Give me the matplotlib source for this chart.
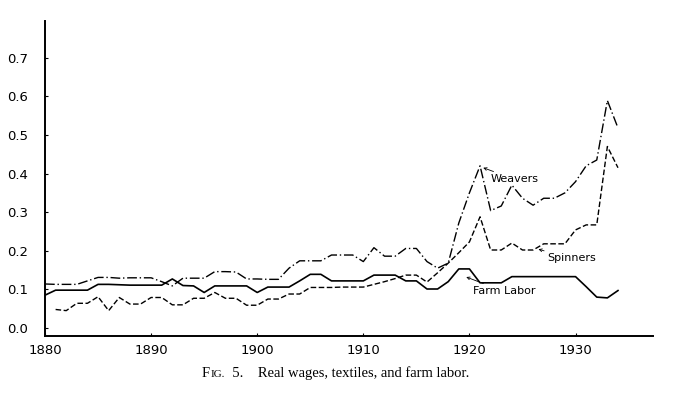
import matplotlib
matplotlib.use("Agg")
import matplotlib.pyplot as plt
from matplotlib import font_manager

years = list(range(1880, 1935))

weavers = [0.114, 0.113, 0.113, 0.113, 0.122, 0.131, 0.131, 0.129, 0.130, 0.130,
           0.130, 0.120, 0.109, 0.129, 0.129, 0.129, 0.146, 0.146, 0.145, 0.127,
           0.127, 0.126, 0.126, 0.155, 0.174, 0.174, 0.174, 0.189, 0.189, 0.189,
           0.172, 0.208, 0.186, 0.186, 0.206, 0.206, 0.172, 0.155, 0.168, 0.272,
           0.350, 0.420, 0.304, 0.316, 0.370, 0.336, 0.318, 0.336, 0.336, 0.350,
           0.379, 0.420, 0.435, 0.589, 0.518]

spinner_years = list(range(1881, 1935))
spinners = [0.048, 0.045, 0.064, 0.064, 0.081, 0.045, 0.079, 0.062, 0.062,
            0.079, 0.079, 0.060, 0.060, 0.077, 0.077, 0.092, 0.077, 0.077, 0.059,
            0.059, 0.075, 0.075, 0.088, 0.088, 0.105, 0.105, 0.105, 0.106, 0.106,
            0.106, 0.113, 0.120, 0.128, 0.137, 0.137, 0.119, 0.143, 0.168, 0.195,
            0.223, 0.288, 0.202, 0.202, 0.220, 0.202, 0.202, 0.218, 0.218, 0.218,
            0.254, 0.267, 0.267, 0.470, 0.415]

farm = [0.085, 0.098, 0.098, 0.098, 0.098, 0.113, 0.113, 0.112, 0.111, 0.111,
        0.111, 0.111, 0.127, 0.110, 0.109, 0.092, 0.109, 0.109, 0.109, 0.109,
        0.092, 0.106, 0.106, 0.106, 0.122, 0.139, 0.139, 0.122, 0.122, 0.122,
        0.122, 0.137, 0.137, 0.137, 0.122, 0.122, 0.101, 0.101, 0.120, 0.153,
        0.153, 0.117, 0.117, 0.117, 0.133, 0.133, 0.133, 0.133, 0.133, 0.133,
        0.133, 0.107, 0.080, 0.078, 0.097]

xticks = [1880, 1890, 1900, 1910, 1920, 1930]
yticks = [0.0, 0.1, 0.2, 0.3, 0.4, 0.5, 0.6, 0.7]
ytick_labels = ["0.0", "0.1", "0.2", "0.3", "0.4", "0.5", "0.6", "0.7"]
caption_rest = "  5.    Real wages, textiles, and farm labor."

installed = {f.name for f in font_manager.fontManager.ttflist}
tick_font = "Liberation Sans Narrow" if "Liberation Sans Narrow" in installed else "DejaVu Sans"

fig = plt.figure(figsize=(6.75, 3.96), dpi=100)
ax = fig.add_axes([45/675, 1-336/396, (653-45)/675, (336-21)/396])

ax.plot(years, weavers, color="black", lw=1.0, linestyle=(0, (7, 2, 1, 2)))
ax.plot(spinner_years, spinners, color="black", lw=1.0, linestyle=(0, (4, 1.8)))
ax.plot(years, farm, color="black", lw=1.2, linestyle="-")

ax.set_xlim(1880, 1937.3)
ax.set_ylim(-0.0207, 0.795)
for s in ["top", "right"]:
    ax.spines[s].set_visible(False)
ax.spines["left"].set_linewidth(1.4)
ax.spines["bottom"].set_linewidth(1.4)

ax.set_xticks(xticks)
ax.set_xticklabels([str(x) for x in xticks])
ax.set_yticks(yticks)
ax.set_yticklabels(ytick_labels)
ax.tick_params(axis="both", length=2, width=0.8, direction="in", labelsize=9.5)
ax.tick_params(axis="y", pad=12)
ax.tick_params(axis="x", pad=6)
for lab in ax.get_xticklabels() + ax.get_yticklabels():
    lab.set_fontfamily(tick_font)

ann_kw = dict(fontsize=8, fontfamily=tick_font, color="black", va="center", ha="left",
              arrowprops=dict(arrowstyle="->", lw=0.6, color="black",
                              shrinkA=0, shrinkB=0, mutation_scale=5))
ax.annotate("Weavers", xy=(1921.3, 0.415), xytext=(1922.0, 0.385), **ann_kw)
ax.annotate("Spinners", xy=(1926.5, 0.204), xytext=(1927.3, 0.180), **ann_kw)
ax.annotate("Farm Labor", xy=(1919.7, 0.132), xytext=(1920.3, 0.095), **ann_kw)

# caption with small caps "FIG."
fig.canvas.draw()
r = fig.canvas.get_renderer()
y_cap = 1 - 377/396
t1 = fig.text(202/675, y_cap, "F", fontsize=10.5, fontfamily="Liberation Serif", va="baseline")
bb = t1.get_window_extent(r)
t2 = fig.text(bb.x1/675, y_cap, "IG.", fontsize=8, fontfamily="Liberation Serif", va="baseline")
bb = t2.get_window_extent(r)
t3 = fig.text(bb.x1/675, y_cap, caption_rest, fontsize=10.5, fontfamily="Liberation Serif", va="baseline")

fig.savefig("out.png", dpi=100)
